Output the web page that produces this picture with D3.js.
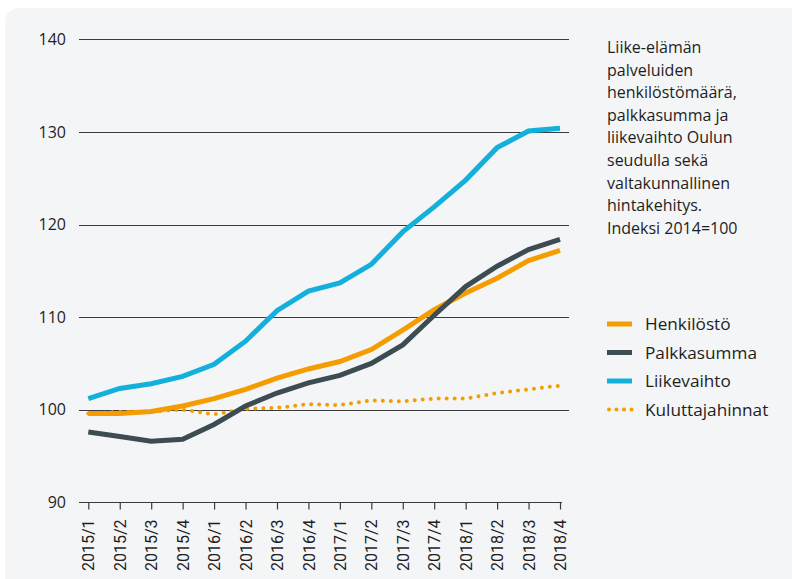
<!DOCTYPE html>
<html>
<head>
<meta charset="utf-8">
<script src="https://cdn.jsdelivr.net/npm/d3@7/dist/d3.min.js"></script>
<style>
  html, body { margin: 0; padding: 0; background: #ffffff; }
  svg { display: block; }
</style>
</head>
<body>
<svg id="chart" width="792" height="579"></svg>
<script>
// Quarters on the x axis
const quarters = ["2015/1","2015/2","2015/3","2015/4","2016/1","2016/2","2016/3","2016/4",
                  "2017/1","2017/2","2017/3","2017/4","2018/1","2018/2","2018/3","2018/4"];

// Index series, 2014 = 100
const henkilosto      = [99.6, 99.6, 99.8, 100.4, 101.2, 102.2, 103.4, 104.4, 105.2, 106.5, 108.6, 110.8, 112.6, 114.2, 116.1, 117.2];
const palkkasumma     = [97.6, 97.1, 96.6, 96.8, 98.4, 100.4, 101.8, 102.9, 103.7, 105.0, 107.0, 110.2, 113.3, 115.5, 117.3, 118.4];
const liikevaihto     = [101.2, 102.3, 102.8, 103.6, 104.9, 107.4, 110.7, 112.8, 113.7, 115.7, 119.2, 121.9, 124.8, 128.3, 130.1, 130.4];
const kuluttajahinnat = [99.6, 99.75, 99.8, 100.0, 99.5, 100.1, 100.2, 100.6, 100.5, 101.0, 100.9, 101.2, 101.2, 101.8, 102.2, 102.6];

const yTicks = [90, 100, 110, 120, 130, 140];

const titleLines = ["Liike-elämän", "palveluiden", "henkilöstömäärä,", "palkkasumma ja",
                    "liikevaihto Oulun", "seudulla sekä", "valtakunnallinen",
                    "hintakehitys.", "Indeksi 2014=100"];

const seriesNames = ["Henkilöstö", "Palkkasumma", "Liikevaihto", "Kuluttajahinnat"];
const seriesValues = [henkilosto, palkkasumma, liikevaihto, kuluttajahinnat];

const COL_ORANGE = "#f59d00";
const COL_DARK = "#3d4b52";
const COL_BLUE = "#12b0db";
const TEXT = "#1e1e1e";
const FONT = "'Open Sans', 'Noto Sans', sans-serif";

const styles = [
  { color: COL_ORANGE, dash: null, width: 5 },
  { color: COL_DARK, dash: null, width: 5 },
  { color: COL_BLUE, dash: null, width: 5 },
  { color: COL_ORANGE, dash: "0 8", width: 4, cap: "round" }
];

const svg = d3.select("#chart");

// Panel background
svg.append("rect")
  .attr("x", 5).attr("y", 8)
  .attr("width", 820).attr("height", 620)
  .attr("rx", 14).attr("ry", 14)
  .attr("fill", "#f4f5f7");

const x = d3.scalePoint().domain(quarters).range([88.3, 560]);
const y = d3.scaleLinear().domain([90, 140]).range([502.3, 39.3]);

// Horizontal gridlines
svg.append("g")
  .selectAll("line")
  .data(yTicks.filter(v => v > 90))
  .join("line")
  .attr("x1", 79).attr("x2", 569)
  .attr("y1", d => Math.round(y(d)) + 0.5)
  .attr("y2", d => Math.round(y(d)) + 0.5)
  .attr("stroke", "#3a3a3a")
  .attr("stroke-width", 1.2);

// Y tick labels
svg.append("g")
  .selectAll("text")
  .data(yTicks)
  .join("text")
  .attr("x", 66)
  .attr("y", d => y(d))
  .attr("dy", "0.35em")
  .attr("text-anchor", "end")
  .attr("font-family", FONT)
  .attr("font-size", 16)
  .attr("fill", TEXT)
  .text(d => d);

// Bottom axis with rotated quarter labels
const xAxis = d3.axisBottom(x).tickSize(7).tickPadding(10);
const gx = svg.append("g")
  .attr("transform", `translate(0,${Math.round(y(90)) + 0.5})`)
  .call(xAxis);
gx.select(".domain")
  .attr("d", `M79,0H562`)
  .attr("stroke", "#3a3a3a")
  .attr("stroke-width", 1.2);
gx.selectAll(".tick line").attr("stroke", "#3a3a3a").attr("stroke-width", 1.2);
gx.selectAll(".tick text")
  .attr("font-family", "'Liberation Sans Narrow', 'Roboto', sans-serif")
  .attr("font-size", 16)
  .attr("fill", TEXT)
  .attr("transform", "rotate(-90)")
  .attr("text-anchor", "end")
  .attr("x", -17)
  .attr("y", 0)
  .attr("dy", "0.35em");

// Series lines
const line = d3.line()
  .x((d, i) => x(quarters[i]))
  .y(d => y(d));

const drawOrder = [0, 3, 1, 2];
svg.append("g")
  .selectAll("path")
  .data(drawOrder)
  .join("path")
  .attr("d", i => line(seriesValues[i]))
  .attr("fill", "none")
  .attr("stroke", i => styles[i].color)
  .attr("stroke-width", i => styles[i].width)
  .attr("stroke-dasharray", i => styles[i].dash)
  .attr("stroke-linecap", i => styles[i].cap || "butt")
  .attr("stroke-linejoin", "miter");

// Title block on the right
svg.append("text")
  .attr("font-family", FONT)
  .attr("font-size", 16)
  .attr("fill", TEXT)
  .selectAll("tspan")
  .data(titleLines)
  .join("tspan")
  .attr("x", 607)
  .attr("y", (d, i) => 53 + i * 22.6)
  .text(d => d);

// Legend
const legend = svg.append("g");
const rowY = (i) => 324 + i * 28.5;
legend.selectAll("line")
  .data(seriesNames.map((n, i) => i))
  .join("line")
  .attr("x1", 607).attr("x2", 632)
  .attr("y1", i => rowY(i)).attr("y2", i => rowY(i))
  .attr("stroke", i => styles[i].color)
  .attr("stroke-width", i => styles[i].width)
  .attr("stroke-dasharray", i => styles[i].dash ? "0 7.5" : null)
  .attr("stroke-linecap", i => styles[i].cap || "butt")
  .attr("transform", i => styles[i].dash ? "translate(2,0)" : null);
legend.selectAll("text")
  .data(seriesNames)
  .join("text")
  .attr("x", 645)
  .attr("y", (d, i) => rowY(i))
  .attr("dy", "0.35em")
  .attr("font-family", FONT)
  .attr("font-size", 17.2)
  .attr("fill", TEXT)
  .text(d => d);
</script>
</body>
</html>
